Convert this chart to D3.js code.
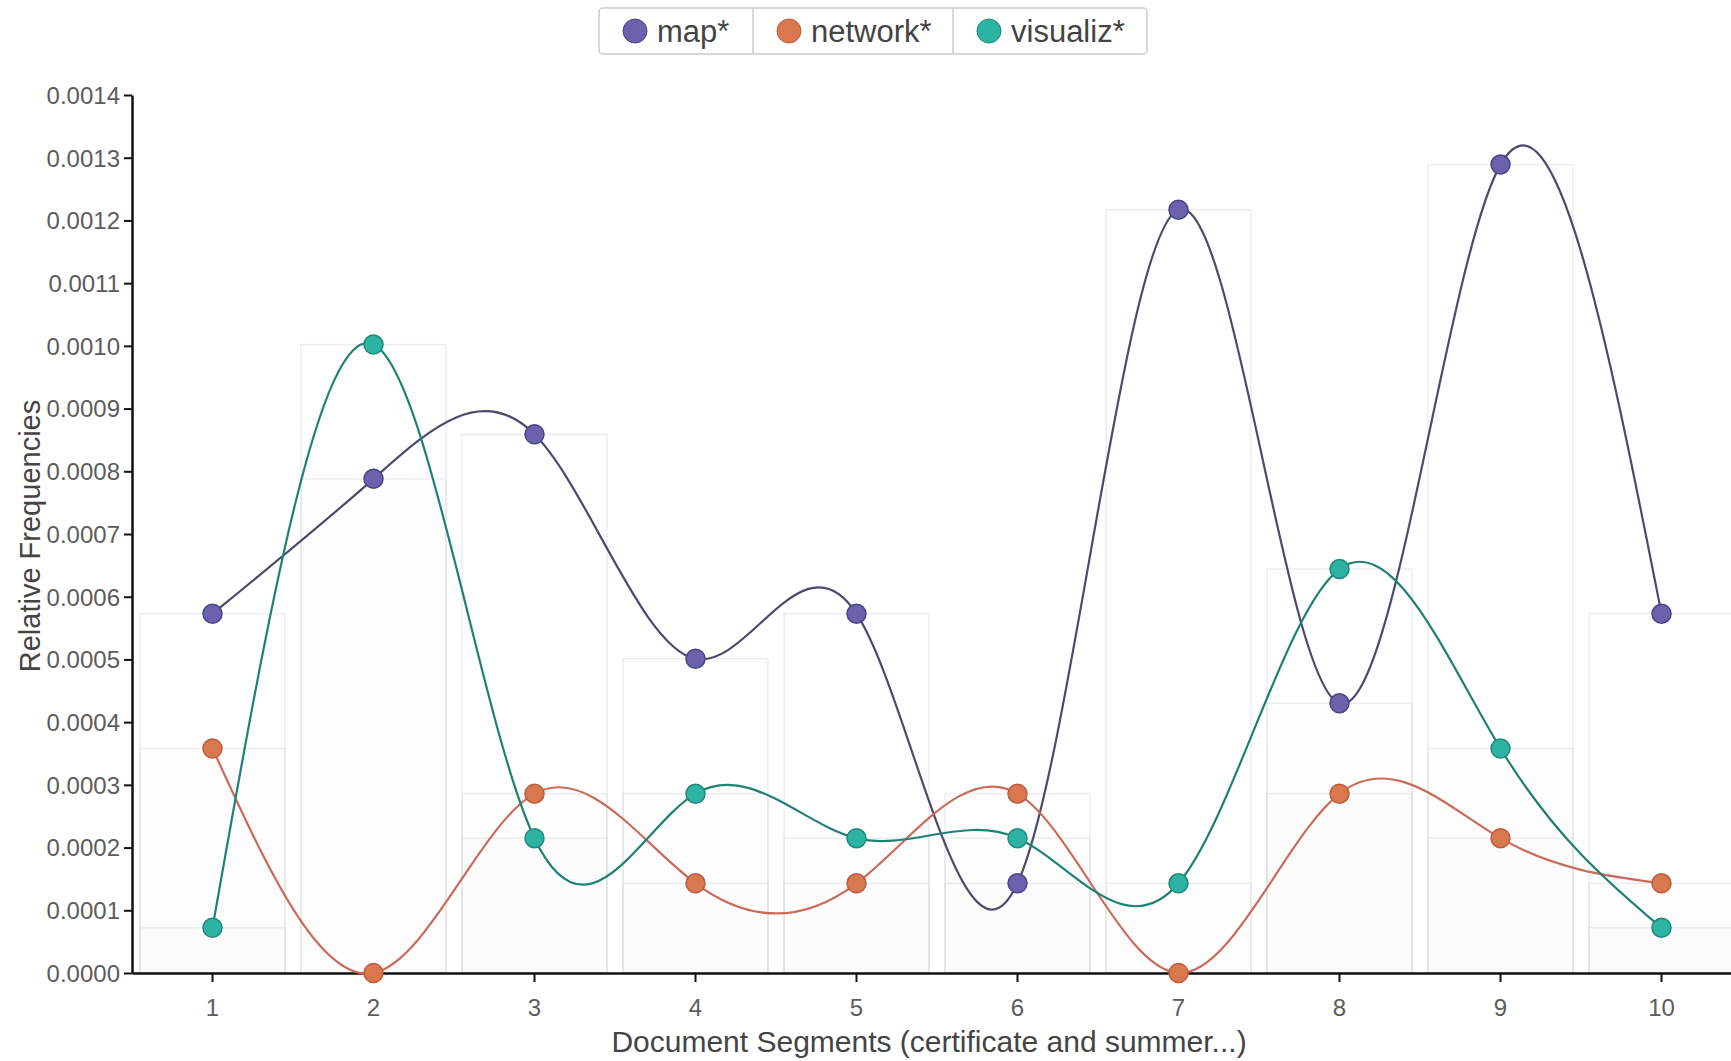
<!DOCTYPE html>
<html>
<head>
<meta charset="utf-8">
<script src="https://cdn.jsdelivr.net/npm/d3@7"></script>
<style>
  html, body { margin: 0; padding: 0; background: #ffffff; }
  svg { display: block; font-family: "Liberation Sans", Arial, Helvetica, sans-serif; }
</style>
</head>
<body>
<svg id="chart" width="1731" height="1061"></svg>
<script>
// ---- data ----
const segments = [1, 2, 3, 4, 5, 6, 7, 8, 9, 10];
const seriesNames = ["map*", "network*", "visualiz*"];
const mapValues      = [0.000573, 0.000788, 0.000859, 0.000501, 0.000573, 0.000143, 0.001217, 0.000430, 0.001289, 0.000573];
const networkValues  = [0.000358, 0.000000, 0.000286, 0.000143, 0.000143, 0.000286, 0.000000, 0.000286, 0.000215, 0.000143];
const visualizValues = [0.000072, 0.001002, 0.000215, 0.000286, 0.000215, 0.000215, 0.000143, 0.000644, 0.000358, 0.000072];
const yTicks = [0, 0.0001, 0.0002, 0.0003, 0.0004, 0.0005, 0.0006, 0.0007, 0.0008, 0.0009, 0.0010, 0.0011, 0.0012, 0.0013, 0.0014];
const xTitle = "Document Segments (certificate and summer...)";
const yTitle = "Relative Frequencies";

const series = [
  { name: seriesNames[0], values: mapValues,      fill: "#6b62ad", stroke: "#4a4584", line: "#4d4a6e" },
  { name: seriesNames[1], values: networkValues,  fill: "#d9774f", stroke: "#bb5e3f", line: "#cc6a5a" },
  { name: seriesNames[2], values: visualizValues, fill: "#2db3a3", stroke: "#1f8a7c", line: "#1f8174" }
];

const svg = d3.select("#chart");
const plotLeft = 132, plotRight = 1742, plotTop = 95, plotBottom = 973;

const x = d3.scaleBand().domain(segments).range([plotLeft, plotRight]).paddingInner(0.1).paddingOuter(0.05);
const xc = d => x(d) + x.bandwidth() / 2;
const y = d3.scaleLinear().domain([0, 0.0014]).range([plotBottom, plotTop]);

// faint background bars
const barG = svg.append("g");
series.forEach(s => {
  barG.selectAll(null).data(segments).enter().append("rect")
    .attr("x", d => x(d))
    .attr("width", x.bandwidth())
    .attr("y", (d, i) => y(s.values[i]))
    .attr("height", (d, i) => plotBottom - y(s.values[i]))
    .attr("fill", "#f6f6f8")
    .attr("fill-opacity", 0.08)
    .attr("stroke", "#dadade")
    .attr("stroke-opacity", 0.45)
    .attr("stroke-width", 1.5);
});

// axes
const yAxis = svg.append("g").attr("transform", `translate(${plotLeft},0)`)
  .call(d3.axisLeft(y).tickValues(yTicks).tickFormat(d3.format(".4f")).tickSize(8).tickSizeOuter(0));
const xAxis = svg.append("g").attr("transform", `translate(0,${plotBottom})`)
  .call(d3.axisBottom(x).tickSize(9).tickSizeOuter(0));
[yAxis, xAxis].forEach(a => {
  a.select(".domain").attr("stroke", "#111").attr("stroke-width", 2.5);
  a.selectAll(".tick line").attr("stroke", "#111").attr("stroke-width", 2);
  a.selectAll(".tick text").attr("fill", "#5c5c5c").attr("font-size", 24)
    .attr("font-family", "'Liberation Sans', Arial, sans-serif");
});
yAxis.selectAll(".tick text").attr("x", -12).attr("dy", "0.35em");
xAxis.selectAll(".tick text").attr("y", 26).attr("dy", "0.71em");

// axis titles
svg.append("text")
  .attr("x", 929).attr("y", 1052)
  .attr("text-anchor", "middle").attr("font-size", 30).attr("fill", "#444")
  .text(xTitle);
svg.append("text")
  .attr("transform", `translate(40,536) rotate(-90)`)
  .attr("text-anchor", "middle").attr("font-size", 29).attr("fill", "#444")
  .text(yTitle);

// lines
const line = d3.line().x((d, i) => xc(segments[i])).y(d => y(d)).curve(d3.curveNatural);
series.forEach(s => {
  svg.append("path").datum(s.values)
    .attr("d", line)
    .attr("fill", "none")
    .attr("stroke", s.line)
    .attr("stroke-width", 2.2);
});

// points
series.forEach(s => {
  svg.append("g").selectAll("circle").data(s.values).enter().append("circle")
    .attr("cx", (d, i) => xc(segments[i]))
    .attr("cy", d => y(d))
    .attr("r", 9.5)
    .attr("fill", s.fill)
    .attr("stroke", s.stroke)
    .attr("stroke-width", 1.5);
});

// legend
const legX = 599, legY = 8, legH = 46;
const legWidths = [154, 200, 194];
const legG = svg.append("g");
legG.append("rect").attr("x", legX).attr("y", legY).attr("width", d3.sum(legWidths)).attr("height", legH)
  .attr("rx", 4).attr("fill", "#fff").attr("stroke", "#ccc").attr("stroke-width", 1.5);
let cx = legX;
series.forEach((s, i) => {
  if (i > 0) {
    legG.append("line").attr("x1", cx).attr("x2", cx).attr("y1", legY).attr("y2", legY + legH)
      .attr("stroke", "#ccc").attr("stroke-width", 1.5);
  }
  legG.append("circle").attr("cx", cx + 36).attr("cy", legY + legH / 2).attr("r", 12)
    .attr("fill", s.fill).attr("stroke", s.stroke).attr("stroke-width", 1);
  legG.append("text").attr("x", cx + 58).attr("y", legY + legH / 2).attr("dy", "0.35em")
    .attr("font-size", 31).attr("fill", "#444").text(s.name);
  cx += legWidths[i];
});
</script>
</body>
</html>
